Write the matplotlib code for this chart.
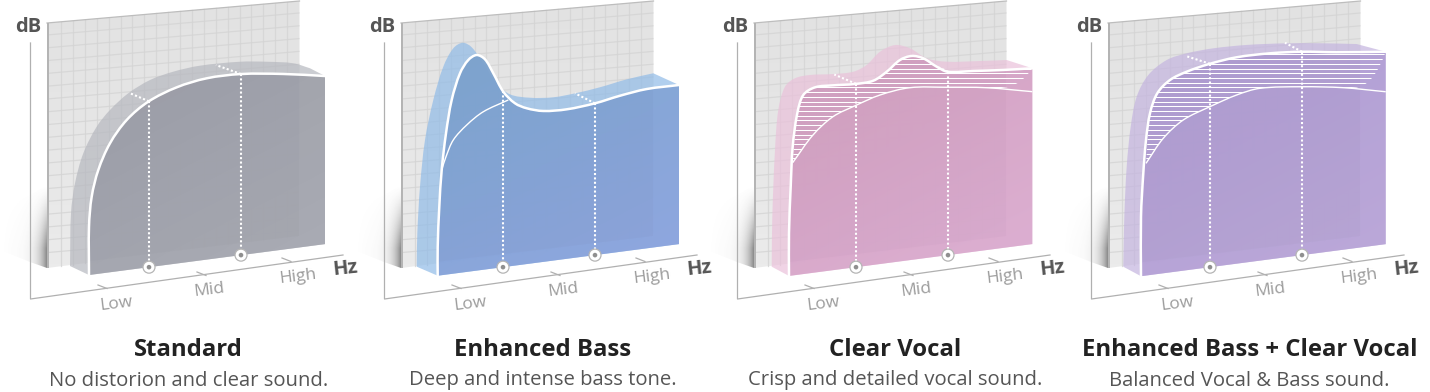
import numpy as np
import matplotlib
matplotlib.use("Agg")
from matplotlib import pyplot as plt
from matplotlib.path import Path
from matplotlib.patches import PathPatch, Polygon, Circle
from matplotlib.colors import to_rgb

plt.rcParams['font.family'] = ['Open Sans', 'DejaVu Sans']

# freq / level (freq along the floor, level above the floor)
std_freq = [9, 9, 11.7, 18.3, 30, 46.7, 68.3, 96.7, 126.7, 160.7, 203.3, 245]
std_level = [0, 48.3, 78, 103.8, 129, 150.1, 165.6, 176.2, 181.3, 181.1, 175.6, 168.1]
std_back_freq = [-10, -9, -5, 3.3, 16.7, 30, 48.3, 70, 93.3, 120, 160, 186.7, 213.3, 230, 245]
std_back_level = [11.5, 64.1, 93.6, 122.5, 147.3, 162.3, 176.6, 187, 192.3, 194.8, 193.5, 190, 185, 177.8, 168.1]

bass_freq = [3.7, 3.7, 5.3, 7.7, 12, 17.7, 26, 34.3, 42.7, 51, 59.3, 69.3, 81, 92.7, 109.3, 132.7, 161, 186, 212.7, 245]
bass_level = [0, 29, 68.8, 105.2, 141.3, 173.9, 199.5, 211.7, 215.6, 210.2, 195.1, 175.4, 162.3, 155.8, 150.9, 149.5, 151.8, 156.1, 159.3, 159.1]
bass_back_freq = [-17.3, -16.7, -14, -9, -0.7, 9.3, 19.3, 28.7, 37.7, 49.3, 62.7, 76, 96, 119.3, 141, 166, 192.7, 219.3, 245]
bass_back_level = [11.8, 45.1, 91.3, 137.4, 176.3, 208.3, 225.4, 229.7, 224, 206.4, 184.7, 171.9, 165.9, 163.3, 164.4, 167.2, 171.6, 174.2, 159.1]
bass_ref_freq = [7.7, 12, 19.3, 32.7, 49.3, 74.3]
bass_ref_level = [105.2, 117.9, 133.7, 146.9, 158, 166.5]

vocal_freq = [2, 2, 3.7, 5.7, 10.3, 16.3, 28, 46.3, 68, 86.3, 99.7, 113, 124.7, 136.3, 149.7, 160.7, 186.3, 216.3, 245.3]
vocal_level = [0, 42.6, 89, 128.8, 161.6, 179.1, 185.2, 184.8, 183.3, 184.2, 191.4, 201.4, 203.9, 200, 189.9, 183.4, 180.8, 177.9, 175.8]
vocal_back_freq = [-15.3, -14.7, -12, -8.7, -2, 8, 23, 46.3, 66.3, 79.7, 93, 108, 123, 139.7, 159.7, 193, 219.7, 245.3]
vocal_back_level = [11.5, 61.4, 127.8, 167.3, 189.8, 196.9, 198.2, 196.1, 195.8, 200.8, 212.3, 217, 211.8, 199.6, 193.6, 189.9, 187.4, 175.8]
vocal_ref_freq = [5.7, 26, 46, 68, 93, 123, 159.7, 199.7, 245.3]
vocal_ref_level = [112.8, 137.8, 153.5, 161.5, 169, 172.4, 168, 162.3, 152.4]

both_freq = [0, 0, 2.3, 5, 9, 16.3, 29, 45.7, 68.3, 95.7, 129, 160.7, 195.7, 244.7]
both_level = [0, 59.5, 102.6, 135.5, 161.7, 180.8, 192.4, 198.5, 203.3, 206.4, 206, 203.4, 198.3, 192.4]
both_back_freq = [-17.7, -16.7, -14.3, -10.3, -4.3, 7.3, 25.7, 45.7, 72.3, 105.7, 144, 179, 215.7, 244.7]
both_back_level = [11.8, 61.7, 111.4, 150.8, 180.1, 200.2, 212.8, 216.9, 218.4, 217.4, 214, 209.5, 203.9, 192.4]
both_ref_freq = [5, 22.3, 42.3, 69, 95.7, 119, 160.7, 202.3, 244.7]
both_ref_level = [112.2, 135, 150.7, 160.5, 168.7, 172.3, 168.4, 162, 152.4]

titles = ['Standard', 'Enhanced Bass', 'Clear Vocal', 'Enhanced Bass + Clear Vocal']
subtitles = ['No distorion and clear sound.', 'Deep and intense bass tone.',
             'Crisp and detailed vocal sound.', 'Balanced Vocal & Bass sound.']
band_labels = ['Low', 'Mid', 'High']
mark_freq = [69, 161]

panel_x = [0, 354, 707, 1061]
front_colors = [('#9a9ca5', '#a8aab3'), ('#7aa5cf', '#8ea3df'), ('#d19dbd', '#dcadd2'), ('#ad99d3', '#baa7d8')]
back_colors = ['#b6b8bf', '#90bbe7', '#eac1da', '#c4b4df']
# offset of the dotted depth line at each mark, None where it is hidden
depth_marks = [[(-20, -8.5), (-25, -9)], [None, (-20, -10)], [(-21.7, -9.3), (-11, -5)], [(-22.7, -7.3), (-17, -9)]]

curves = [
    (std_freq, std_level, std_back_freq, std_back_level, None, None),
    (bass_freq, bass_level, bass_back_freq, bass_back_level, bass_ref_freq, bass_ref_level),
    (vocal_freq, vocal_level, vocal_back_freq, vocal_back_level, vocal_ref_freq, vocal_ref_level),
    (both_freq, both_level, both_back_freq, both_back_level, both_ref_freq, both_ref_level),
]


def project(freq, level, ox):
    freq = np.asarray(freq, dtype=float)
    level = np.asarray(level, dtype=float)
    return np.column_stack([80 + ox + freq, 276.2 - 0.131 * freq - level])


def spline(pts):
    # chord-length catmull-rom through the read points, as bezier pieces
    pts = np.asarray(pts)
    d = np.maximum(np.linalg.norm(np.diff(pts, axis=0), axis=1), 1e-6)
    m = np.zeros_like(pts)
    m[0] = (pts[1] - pts[0]) / d[0]
    m[-1] = (pts[-1] - pts[-2]) / d[-1]
    for i in range(1, len(pts) - 1):
        m[i] = (pts[i + 1] - pts[i - 1]) / (d[i - 1] + d[i])
    verts = []
    for i in range(len(pts) - 1):
        verts.append(pts[i] + m[i] * d[i] / 3)
        verts.append(pts[i + 1] - m[i + 1] * d[i] / 3)
        verts.append(pts[i + 1])
    return verts, [Path.CURVE4] * len(verts)


def closed_path(pts, tail):
    verts, codes = spline(pts)
    verts = [pts[0]] + verts + [np.asarray(t) for t in tail] + [pts[0]]
    codes = [Path.MOVETO] + codes + [Path.LINETO] * len(tail) + [Path.CLOSEPOLY]
    return Path(verts, codes)


def open_path(pts):
    verts, codes = spline(pts)
    return Path([pts[0]] + verts, [Path.MOVETO] + codes)


def gradient(ax, patch, c0, c1, box, alpha, zorder):
    x0, x1, y0, y1 = box
    u, v = np.meshgrid(np.linspace(0, 1, 64), np.linspace(0, 1, 64))
    t = (0.35 * u + 0.65 * (1 - v))[..., None]
    rgb = np.array(to_rgb(c0)) * (1 - t) + np.array(to_rgb(c1)) * t
    img = np.dstack([rgb, np.full(u.shape, alpha)])
    im = ax.imshow(img, extent=(x0, x1, y1, y0), aspect='auto', zorder=zorder, interpolation='bilinear')
    im.set_clip_path(patch)


def draw_shadow(ax, ox):
    u, v = np.meshgrid(np.linspace(0, 1, 80), np.linspace(0, 1, 60))
    alpha = (0.6 * u ** 6 + 0.05 * u) * np.clip(v * 1.3, 0, 1) ** 1.3
    img = np.zeros(u.shape + (4,))
    img[..., :3] = 0.3
    img[..., 3] = alpha
    im = ax.imshow(img, extent=(ox, ox + 47, 268, 185), aspect='auto', zorder=1)
    clip = Polygon([(ox + 47, 185), (ox + 47, 268), (ox + 30, 262), (ox, 250), (ox, 212)],
                   closed=True, fc='none', ec='none', transform=ax.transData)
    ax.add_patch(clip)
    im.set_clip_path(clip)


def draw_wall(ax, ox):
    corners = [(ox + 47, 23), (ox + 299.5, 1), (ox + 299.5, 236), (ox + 47, 268)]
    wall = Polygon(corners, closed=True, fc='none', ec='none')
    ax.add_patch(wall)
    v = np.linspace(0, 1, 64)[:, None, None]
    img = np.array(to_rgb('#e2e2e2')) * (1 - v) + np.array(to_rgb('#ebebeb')) * v
    im = ax.imshow(img, extent=(ox + 47, ox + 300, 268, 0), aspect='auto', zorder=2)
    im.set_clip_path(wall)
    for gx in np.arange(61, 299, 11.9):
        top = 23 - (gx - 47) * 0.0873
        bot = 268 - (gx - 47) * 0.127
        ax.plot([ox + gx, ox + gx], [top, bot], color='#d4d4d4', alpha=0.8, lw=0.9, zorder=2.1)
    for gy in np.arange(35, 262, 12.8):
        ax.plot([ox + 47, ox + 299.5], [gy, gy - 252.5 * 0.0873], color='#d4d4d4', alpha=0.8, lw=0.9, zorder=2.1,
                clip_path=wall)
    ax.plot([ox + 47, ox + 299.5], [23, 1], color='#bdbdbd', lw=0.9, zorder=2.2)
    ax.add_patch(Polygon([(ox + 46.5, 23), (ox + 49, 23), (ox + 49, 268), (ox + 46.5, 268)],
                         closed=True, fc='#b4b4b4', ec='none', zorder=2.2))


def draw_axes(ax, ox):
    ax.plot([ox + 30.5, ox + 30.5, ox + 343], [43, 299, 255], color='#b0b0b0', lw=0.9, zorder=6)
    for tx, ty in [(98, 285), (197, 272), (282, 258)]:
        ax.plot([ox + tx, ox + tx + 9], [ty, ty + 3.5], color='#b0b0b0', lw=0.9, zorder=6)
    for lab, tx, ty, in zip(band_labels, [116, 209, 298], [304.5, 290.5, 276.5]):
        ax.text(ox + tx, ty, lab, color='#9c9c9c', fontsize=12.5, rotation=7, ha='center', va='center',
                rotation_mode='anchor', zorder=7)
    ax.text(ox + 28.5, 27, 'dB', color='#555555', fontsize=14.5, fontweight='bold', ha='center', va='center', zorder=7)
    ax.text(ox + 345.5, 269, 'Hz', color='#555555', fontsize=14.5, fontweight='bold', rotation=6, ha='center',
            va='center', rotation_mode='anchor', zorder=7)


def draw_panel(ax, i):
    ox = panel_x[i]
    freq, level, bfreq, blevel, rfreq, rlevel = curves[i]
    front = project(freq, level, ox)
    back = project(bfreq, blevel, ox)
    f_end = freq[-1]
    right_foot = project([f_end], [0], ox)[0]
    left_foot = front[0]

    draw_shadow(ax, ox)
    draw_wall(ax, ox)

    # pale shell behind the front face, straight chamfer at the right end
    shell = PathPatch(closed_path(back[:-1], [back[-1], right_foot, left_foot]),
                      fc=back_colors[i], ec='none', alpha=0.7, zorder=3)
    ax.add_patch(shell)

    # front face
    face = PathPatch(closed_path(front, [right_foot]), fc='none', ec='none', zorder=3.5)
    ax.add_patch(face)
    gradient(ax, face, front_colors[i][0], front_colors[i][1],
             (ox + 80, ox + 326, 276, 40), 0.93, 3.6)
    # wall seen through the face
    see = Polygon([(ox + 49, 20), (ox + 299, 2), (ox + 299, 236), (ox + 49, 266)], closed=True,
                  fc='#606070', ec='none', alpha=0.03, zorder=3.7)
    ax.add_patch(see)
    see.set_clip_path(face)

    if rfreq is not None:
        ref = project(rfreq, rlevel, ox)
        if i > 1:
            keep = np.asarray(freq) > rfreq[0]
            upper = np.vstack([ref[0], front[keep]])
            uv, uc = spline(upper)
            rv, rc = spline(ref[::-1])
            region = Path([upper[0]] + uv + rv + [upper[0]],
                          [Path.MOVETO] + uc + rc + [Path.CLOSEPOLY])
            clip = PathPatch(region, fc='none', ec='none')
            ax.add_patch(clip)
            for gy in np.arange(54.4, 170, 4.72):
                ax.plot([ox + 80, ox + 326], [gy, gy], color='white', lw=0.75, zorder=4, clip_path=clip)
        ax.add_patch(PathPatch(open_path(ref), fc='none', ec='white', lw=1.0, zorder=4.2))

    ax.add_patch(PathPatch(open_path(front), fc='none', ec='white', lw=1.8, zorder=4.5, capstyle='round'))

    # dotted drops and the rings on the floor
    for m, depth in zip(mark_freq, depth_marks[i]):
        top = project([m], [np.interp(m, freq[1:], level[1:])], ox)[0]
        foot = project([m], [0], ox)[0]
        ax.plot([top[0], foot[0]], [top[1], foot[1] - 6], color='white', lw=1.5, ls=(0, (1, 1.1)), zorder=5)
        if depth is not None:
            ax.plot([top[0], top[0] + depth[0]], [top[1], top[1] + depth[1]], color='white', lw=1.5,
                    ls=(0, (1, 1.1)), zorder=5)
        ax.add_patch(Circle(foot, 6, fc='white', ec='#b5b5b5', lw=0.9, zorder=5.5))
        ax.add_patch(Circle(foot, 2.3, fc='#8f8f8f', ec='none', zorder=5.6))

    draw_axes(ax, ox)
    ax.text(ox + 188.5, 350, titles[i], color='#222222', fontsize=17.2, fontweight='bold', ha='center', va='center')
    ax.text(ox + 188.5, 380.5, subtitles[i], color='#555555', fontsize=14.6, ha='center', va='center')


fig = plt.figure(figsize=(14.3, 3.92), dpi=100)
ax = fig.add_axes([0, 0, 1, 1])
for i in range(4):
    draw_panel(ax, i)
ax.set_xlim(0, 1430)
ax.set_ylim(392, 0)
ax.axis('off')
fig.savefig('out.png', dpi=100)
